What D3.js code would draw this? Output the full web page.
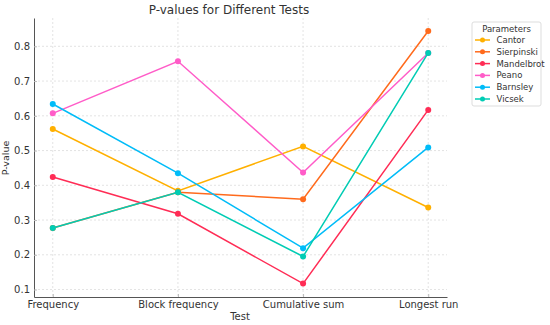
<!DOCTYPE html>
<html>
<head>
<meta charset="utf-8">
<script src="https://cdn.jsdelivr.net/npm/d3@7"></script>
<style>
  body { margin: 0; background: #fff; }
  text { font-family: "DejaVu Sans", sans-serif; }
</style>
</head>
<body>
<div id="chart"></div>
<script>
// P-values for different randomness tests
const tests = ["Frequency", "Block frequency", "Cumulative sum", "Longest run"];
const seriesNames = ["Cantor", "Sierpinski", "Mandelbrot", "Peano", "Barnsley", "Vicsek"];
const cantor = [0.562, 0.384, 0.512, 0.336];
const sierpinski = [0.277, 0.380, 0.360, 0.844];
const mandelbrot = [0.424, 0.318, 0.117, 0.617];
const peano = [0.607, 0.757, 0.437, 0.781];
const barnsley = [0.634, 0.435, 0.219, 0.509];
const vicsek = [0.277, 0.380, 0.195, 0.781];
const yTicks = [0.1, 0.2, 0.3, 0.4, 0.5, 0.6, 0.7, 0.8];
const colors = ["#ffb000", "#ff6a1c", "#ff2c55", "#ff5cc8", "#00bcf8", "#00ccb4"];

{
    const W = 550, H = 325;
    const margin = { top: 18, right: 103, bottom: 28, left: 34 };
    const width = W - margin.left - margin.right;
    const height = H - margin.top - margin.bottom;

    const svg = d3.select("#chart").append("svg")
        .attr("width", W).attr("height", H);

    const g = svg.append("g")
        .attr("transform", `translate(${margin.left},${margin.top})`);

    const x = d3.scaleLinear().domain([-0.15, tests.length - 1 + 0.15]).range([0, width]);
    const y = d3.scaleLinear().domain([0.0785, 0.8815]).range([height, 0]);

    // grid
    g.append("g").selectAll("line").data(yTicks).join("line")
        .attr("x1", 0).attr("x2", width)
        .attr("y1", d => y(d)).attr("y2", d => y(d))
        .attr("stroke", "#dcdcdc").attr("stroke-width", 0.8).attr("stroke-dasharray", "2,2");
    g.append("g").selectAll("line").data(tests).join("line")
        .attr("x1", (d, i) => x(i)).attr("x2", (d, i) => x(i))
        .attr("y1", 0).attr("y2", height)
        .attr("stroke", "#dcdcdc").attr("stroke-width", 0.8).attr("stroke-dasharray", "2,2");

    // axes
    const yAxis = g.append("g")
        .call(d3.axisLeft(y).tickValues(yTicks).tickFormat(d3.format(".1f")).tickSizeInner(-3).tickSizeOuter(0).tickPadding(4));
    const xAxis = g.append("g")
        .attr("transform", `translate(0,${height})`)
        .call(d3.axisBottom(x).tickValues(d3.range(tests.length)).tickFormat(i => tests[i]).tickSizeInner(-3).tickSizeOuter(0).tickPadding(4));
    [xAxis, yAxis].forEach(a => {
        a.select(".domain").attr("stroke", "#555").attr("stroke-width", 1);
        a.selectAll(".tick line").attr("stroke", "#bbb");
        a.selectAll(".tick text").attr("fill", "#333").style("font-size", "10px");
    });

    const data = [cantor, sierpinski, mandelbrot, peano, barnsley, vicsek];
    const line = d3.line().x((d, i) => x(i)).y(d => y(d));

    data.forEach((vals, k) => {
        g.append("path").datum(vals)
            .attr("fill", "none").attr("stroke", colors[k]).attr("stroke-width", 1.5)
            .attr("d", line);
        g.append("g").selectAll("circle").data(vals).join("circle")
            .attr("cx", (d, i) => x(i)).attr("cy", d => y(d)).attr("r", 3)
            .attr("fill", colors[k]);
    });

    // titles
    svg.append("text").attr("x", 229).attr("y", 14).attr("text-anchor", "middle")
        .attr("fill", "#333").style("font-size", "12px").text("P-values for Different Tests");
    svg.append("text").attr("x", 240).attr("y", 320).attr("text-anchor", "middle")
        .attr("fill", "#333").style("font-size", "10px").text("Test");
    svg.append("text").attr("transform", "translate(9,158) rotate(-90)").attr("text-anchor", "middle")
        .attr("fill", "#333").style("font-size", "9.5px").text("P-value");

    // legend
    const lg = svg.append("g").attr("transform", "translate(472,22)");
    lg.append("rect").attr("width", 69).attr("height", 84).attr("rx", 2)
        .attr("fill", "#fff").attr("stroke", "#ddd");
    lg.append("text").attr("x", 34.5).attr("y", 9.5).attr("text-anchor", "middle")
        .attr("fill", "#333").style("font-size", "8.5px").text("Parameters");
    const items = lg.selectAll(".item").data(seriesNames).join("g")
        .attr("transform", (d, i) => `translate(0,${18 + i * 11.8})`);
    items.append("line").attr("x1", 3).attr("x2", 18).attr("stroke", (d, i) => colors[i]).attr("stroke-width", 1.5);
    items.append("circle").attr("cx", 10.5).attr("r", 2.5).attr("fill", (d, i) => colors[i]);
    items.append("text").attr("x", 24.5).attr("y", 3).attr("fill", "#333")
        .style("font-size", "8.5px").text(d => d);
}
</script>
</body>
</html>
